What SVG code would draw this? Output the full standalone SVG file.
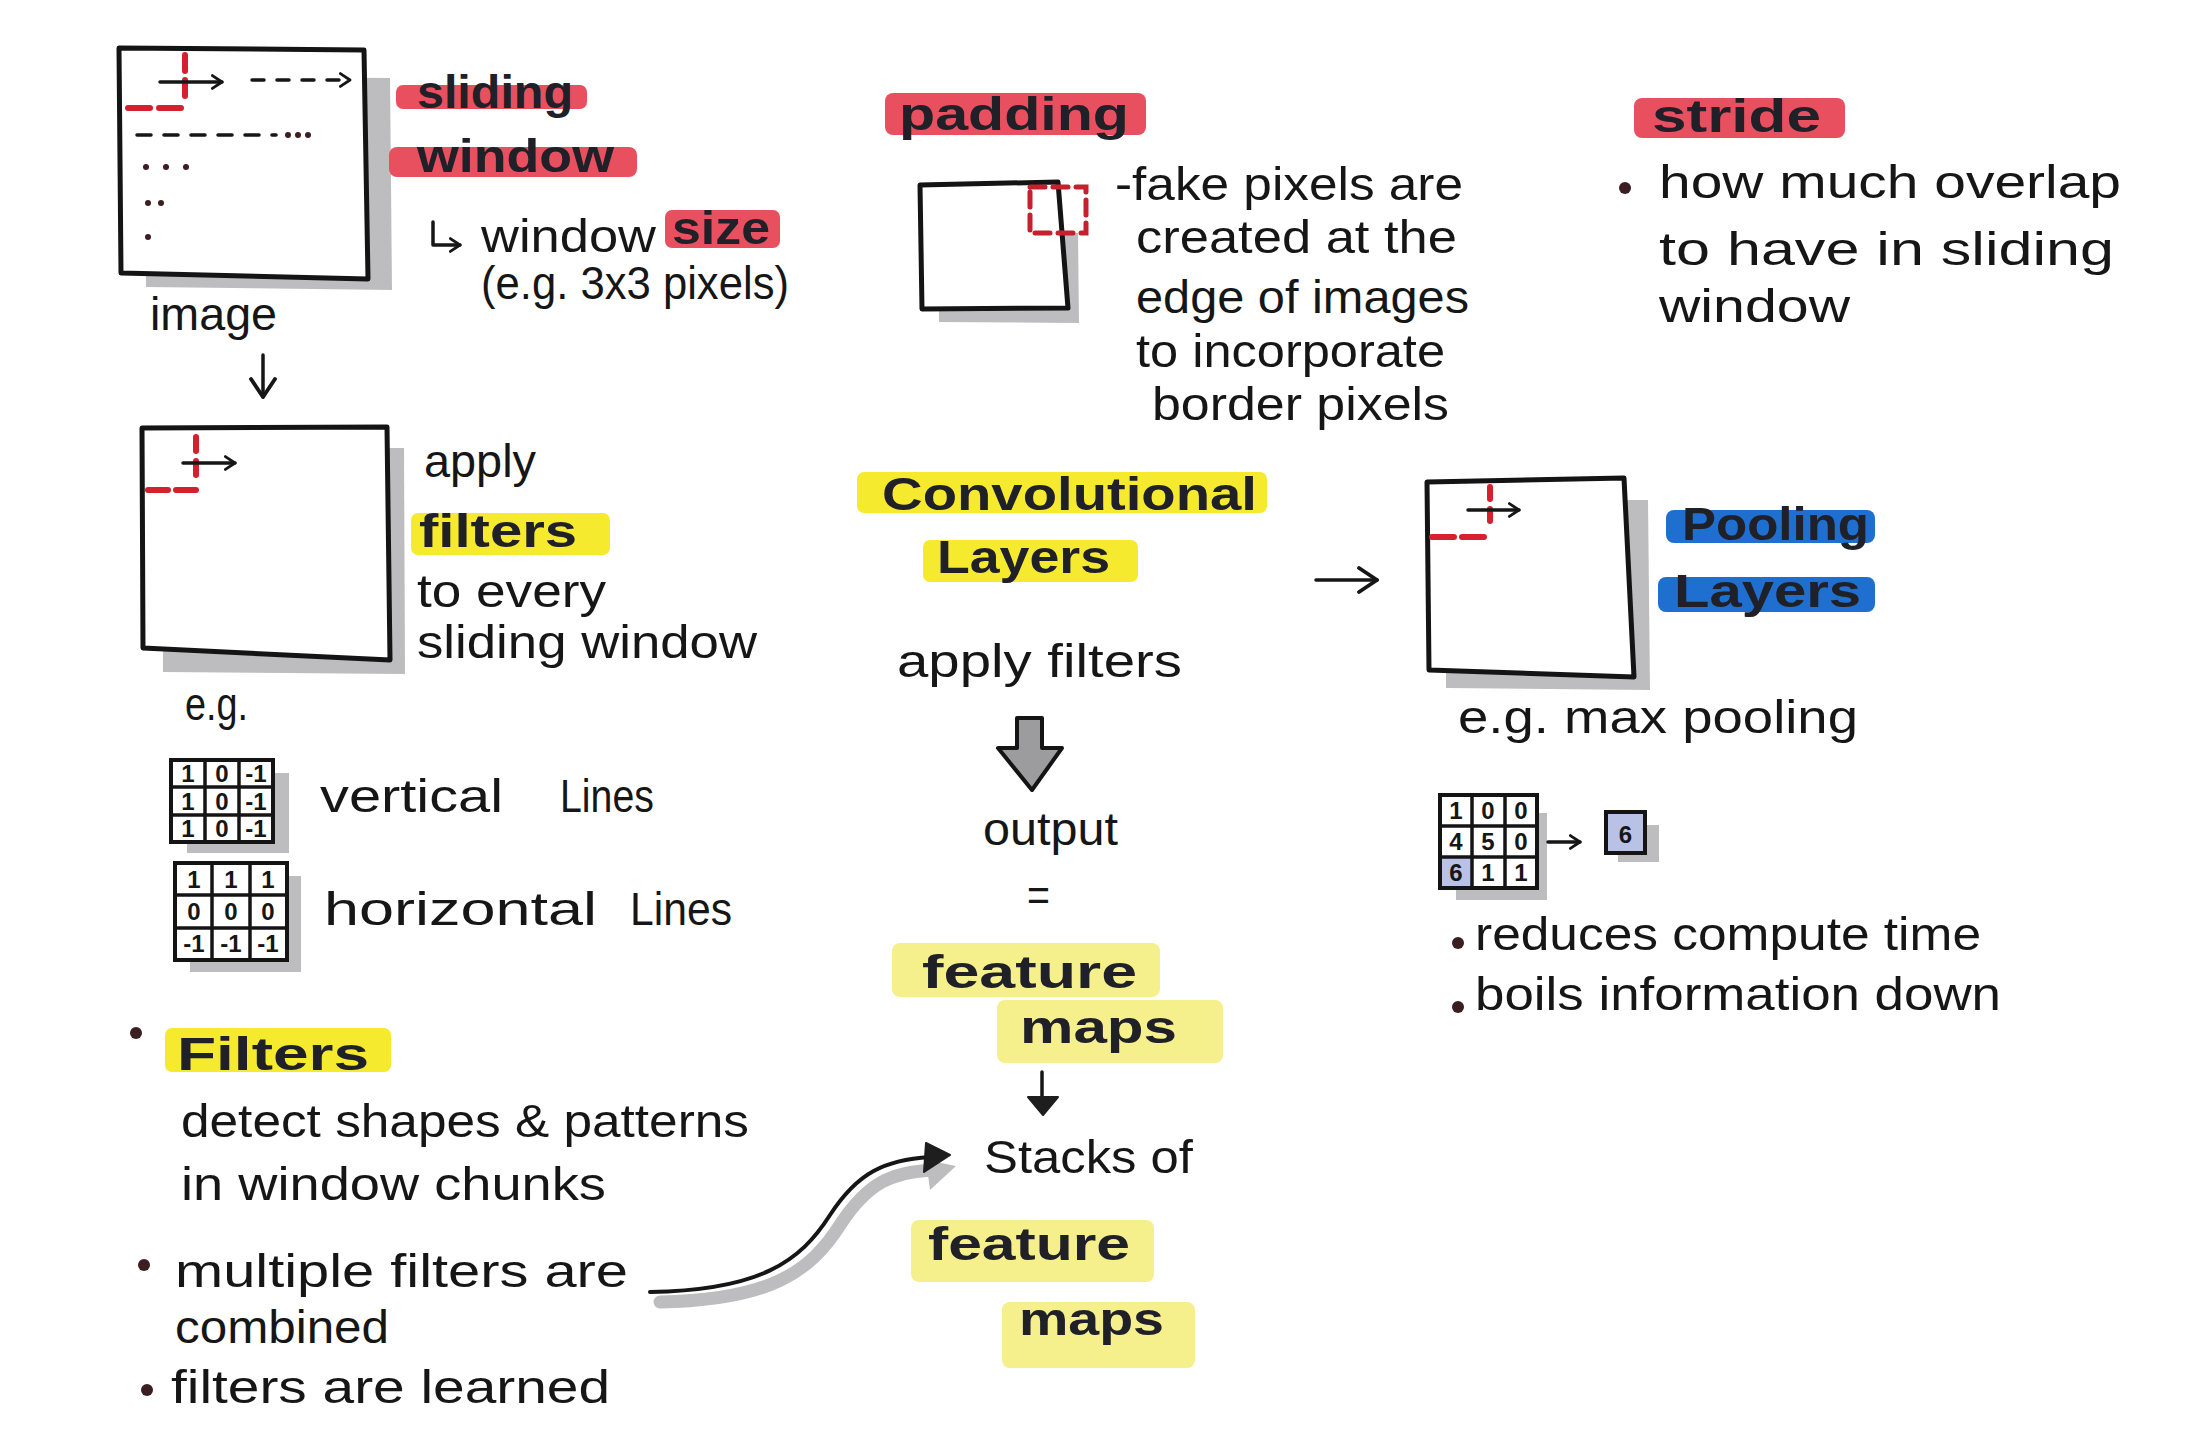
<svg xmlns="http://www.w3.org/2000/svg" width="2206" height="1453" viewBox="0 0 2206 1453">
<defs>
<style>
.t{font-family:"Liberation Sans",Arial,sans-serif;font-size:46px;fill:#161616}
.b{font-weight:bold;fill:#202028}
.box{fill:#fff;stroke:#141414;stroke-width:5;stroke-linejoin:round}
.shadow{fill:#bdbdc0}
.hl-red{fill:#e8505f}
.hl-yel{fill:#f6ea2e}
.hl-pale{fill:#f5ef8c}
.hl-blue{fill:#1f6fd0}
.red{stroke:#d5202f;stroke-width:6;stroke-linecap:round;fill:none}
.ln{stroke:#161616;stroke-width:3.5;fill:none;stroke-linecap:round;stroke-linejoin:round}
.grid{fill:#fff;stroke:#141414;stroke-width:4}
.gl{stroke:#141414;stroke-width:3.5}
.num{font-family:"Liberation Sans",Arial,sans-serif;font-size:24px;font-weight:bold;fill:#161616;text-anchor:middle}
.dot{fill:#3b1d22}
</style>
<marker id="open" viewBox="0 0 20 20" refX="17" refY="10" markerWidth="16" markerHeight="16" markerUnits="userSpaceOnUse" orient="auto">
<path d="M5,2 L17,10 L5,18" fill="none" stroke="#161616" stroke-width="3.5" stroke-linecap="round" stroke-linejoin="round"/>
</marker>
<marker id="open-lg" viewBox="0 0 20 20" refX="17" refY="10" markerWidth="30" markerHeight="30" markerUnits="userSpaceOnUse" orient="auto">
<path d="M5,2 L17,10 L5,18" fill="none" stroke="#161616" stroke-width="2.6" stroke-linecap="round" stroke-linejoin="round"/>
</marker>
</defs>
<rect width="2206" height="1453" fill="#fff"/>

<!-- Sliding window image -->
<g id="image-sliding-window">
<polygon class="shadow" points="145,76 390,78 392,290 146,287"/>
<polygon class="box" points="119,48 364,50 368,279 121,273"/>
<line class="red" x1="185" y1="55" x2="185" y2="100" stroke-dasharray="16 9"/>
<line class="red" x1="128" y1="108" x2="190" y2="108" stroke-dasharray="22 9"/>
<line class="ln" x1="160" y1="82" x2="222" y2="82" marker-end="url(#open)"/>
<line class="ln" x1="252" y1="80" x2="350" y2="80" stroke-dasharray="12 13" marker-end="url(#open)"/>
<line class="ln" x1="137" y1="135" x2="276" y2="135" stroke-dasharray="14 13" stroke-width="4"/>
<circle class="dot" cx="288" cy="135" r="3"/><circle class="dot" cx="298" cy="135" r="3"/><circle class="dot" cx="308" cy="135" r="3"/>
<circle class="dot" cx="146" cy="167" r="3"/><circle class="dot" cx="166" cy="167" r="3"/><circle class="dot" cx="186" cy="167" r="3"/>
<circle class="dot" cx="148" cy="203" r="3"/><circle class="dot" cx="161" cy="203" r="3"/>
<circle class="dot" cx="148" cy="237" r="3"/>
<text class="t" x="150" y="330" textLength="127" lengthAdjust="spacingAndGlyphs">image</text>
</g>

<g id="sliding-window-label">
<rect class="hl-red" x="396" y="85" width="191" height="24" rx="7"/>
<rect class="hl-red" x="389" y="147" width="248" height="30" rx="8"/>
<text class="t b" x="417" y="108" font-size="42" textLength="156" lengthAdjust="spacingAndGlyphs">sliding</text>
<text class="t b" x="417" y="172" font-size="42" textLength="197" lengthAdjust="spacingAndGlyphs">window</text>
<path class="ln" d="M433,222 L433,245 L460,245" marker-end="url(#open)"/>
<text class="t" x="481" y="252" textLength="175" lengthAdjust="spacingAndGlyphs">window</text>
<rect class="hl-red" x="665" y="210" width="115" height="38" rx="7"/>
<text class="t b" x="672" y="244" font-size="42" textLength="98" lengthAdjust="spacingAndGlyphs">size</text>
<text class="t" x="481" y="299" font-size="35" textLength="308" lengthAdjust="spacingAndGlyphs">(e.g. 3x3 pixels)</text>
</g>

<!-- Apply filters -->
<g id="apply-filters">
<polygon class="shadow" points="163,448 404,448 405,674 163,672"/>
<polygon class="box" points="142,428 387,427 390,660 143,648"/>
<line class="red" x1="196" y1="437" x2="196" y2="480" stroke-dasharray="14 10"/>
<line class="red" x1="148" y1="490" x2="196" y2="490" stroke-dasharray="20 8"/>
<line class="ln" x1="183" y1="463" x2="235" y2="463" marker-end="url(#open)"/>
<text class="t" x="424" y="477" textLength="112" lengthAdjust="spacingAndGlyphs">apply</text>
<rect class="hl-yel" x="411" y="513" width="199" height="42" rx="7"/>
<text class="t b" x="419" y="547" font-size="44" textLength="158" lengthAdjust="spacingAndGlyphs">filters</text>
<text class="t" x="417" y="607" textLength="189" lengthAdjust="spacingAndGlyphs">to every</text>
<text class="t" x="417" y="658" textLength="340" lengthAdjust="spacingAndGlyphs">sliding window</text>
<text class="t" x="185" y="720" textLength="63" lengthAdjust="spacingAndGlyphs">e.g.</text>
</g>

<!-- Filter examples -->
<g id="filter-vertical">
<polygon class="shadow" points="187,773 289,773 289,853 187,853"/>
<rect class="grid" x="171" y="760" width="102" height="82"/>
<line class="gl" x1="205" y1="760" x2="205" y2="842"/><line class="gl" x1="239" y1="760" x2="239" y2="842"/>
<line class="gl" x1="171" y1="787" x2="273" y2="787"/><line class="gl" x1="171" y1="815" x2="273" y2="815"/>
<text class="num" x="188" y="782">1</text><text class="num" x="222" y="782">0</text><text class="num" x="256" y="782">-1</text>
<text class="num" x="188" y="810">1</text><text class="num" x="222" y="810">0</text><text class="num" x="256" y="810">-1</text>
<text class="num" x="188" y="837">1</text><text class="num" x="222" y="837">0</text><text class="num" x="256" y="837">-1</text>
<text class="t" x="320" y="812" textLength="183" lengthAdjust="spacingAndGlyphs">vertical</text>
<text class="t" x="560" y="812" font-size="44" textLength="94" lengthAdjust="spacingAndGlyphs">Lines</text>
</g>
<g id="filter-horizontal">
<polygon class="shadow" points="190,876 301,876 301,972 190,972"/>
<rect class="grid" x="175" y="863" width="112" height="97"/>
<line class="gl" x1="212" y1="863" x2="212" y2="960"/><line class="gl" x1="250" y1="863" x2="250" y2="960"/>
<line class="gl" x1="175" y1="895" x2="287" y2="895"/><line class="gl" x1="175" y1="928" x2="287" y2="928"/>
<text class="num" x="194" y="888">1</text><text class="num" x="231" y="888">1</text><text class="num" x="268" y="888">1</text>
<text class="num" x="194" y="920">0</text><text class="num" x="231" y="920">0</text><text class="num" x="268" y="920">0</text>
<text class="num" x="194" y="952">-1</text><text class="num" x="231" y="952">-1</text><text class="num" x="268" y="952">-1</text>
<text class="t" x="324" y="925" textLength="273" lengthAdjust="spacingAndGlyphs">horizontal</text>
<text class="t" x="630" y="925" font-size="44" textLength="102" lengthAdjust="spacingAndGlyphs">Lines</text>
</g>

<!-- Filters notes -->
<g id="filters-notes">
<circle class="dot" cx="136" cy="1033" r="6"/>
<rect class="hl-yel" x="165" y="1028" width="226" height="44" rx="7"/>
<text class="t b" x="177" y="1070" font-size="44" textLength="192" lengthAdjust="spacingAndGlyphs">Filters</text>
<text class="t" x="181" y="1137" textLength="568" lengthAdjust="spacingAndGlyphs">detect shapes &amp; patterns</text>
<text class="t" x="181" y="1200" textLength="425" lengthAdjust="spacingAndGlyphs">in window chunks</text>
<circle class="dot" cx="144" cy="1265" r="6"/>
<text class="t" x="175" y="1287" textLength="453" lengthAdjust="spacingAndGlyphs">multiple filters are</text>
<text class="t" x="175" y="1343" textLength="214" lengthAdjust="spacingAndGlyphs">combined</text>
<circle class="dot" cx="147" cy="1390" r="6"/>
<text class="t" x="171" y="1403" textLength="439" lengthAdjust="spacingAndGlyphs">filters are learned</text>
</g>

<!-- Padding -->
<g id="padding">
<rect class="hl-red" x="885" y="93" width="261" height="42" rx="8"/>
<text class="t b" x="899" y="130" font-size="46" textLength="230" lengthAdjust="spacingAndGlyphs">padding</text>
<polygon class="shadow" points="939,233 1078,233 1079,323 939,322"/>
<polygon class="box" points="920,185 1058,182 1068,308 922,309"/>
<rect x="1030" y="187" width="56" height="46" fill="none" stroke="#c4202d" stroke-width="5" stroke-dasharray="15 8" stroke-linecap="round"/>
<text class="t" x="1115" y="200" textLength="348" lengthAdjust="spacingAndGlyphs">-fake pixels are</text>
<text class="t" x="1136" y="253" textLength="321" lengthAdjust="spacingAndGlyphs">created at the</text>
<text class="t" x="1136" y="313" textLength="333" lengthAdjust="spacingAndGlyphs">edge of images</text>
<text class="t" x="1136" y="367" textLength="309" lengthAdjust="spacingAndGlyphs">to incorporate</text>
<text class="t" x="1152" y="420" textLength="297" lengthAdjust="spacingAndGlyphs">border pixels</text>
</g>

<!-- Stride -->
<g id="stride">
<rect class="hl-red" x="1634" y="98" width="211" height="40" rx="8"/>
<text class="t b" x="1652" y="132" font-size="46" textLength="169" lengthAdjust="spacingAndGlyphs">stride</text>
<circle class="dot" cx="1625" cy="188" r="6"/>
<text class="t" x="1659" y="198" textLength="462" lengthAdjust="spacingAndGlyphs">how much overlap</text>
<text class="t" x="1659" y="265" textLength="455" lengthAdjust="spacingAndGlyphs">to have in sliding</text>
<text class="t" x="1659" y="322" textLength="191" lengthAdjust="spacingAndGlyphs">window</text>
</g>

<!-- Convolutional layers -->
<g id="conv-layers">
<rect class="hl-yel" x="857" y="472" width="410" height="41" rx="7"/>
<text class="t b" x="882" y="510" font-size="42" textLength="375" lengthAdjust="spacingAndGlyphs">Convolutional</text>
<rect class="hl-yel" x="923" y="540" width="215" height="42" rx="7"/>
<text class="t b" x="937" y="573" font-size="44" textLength="173" lengthAdjust="spacingAndGlyphs">Layers</text>
<text class="t" x="897" y="677" textLength="285" lengthAdjust="spacingAndGlyphs">apply filters</text>
</g>

<g id="output">
<text class="t" x="983" y="845" textLength="135" lengthAdjust="spacingAndGlyphs">output</text>
<text class="t" x="1027" y="911" font-size="40" textLength="23" lengthAdjust="spacingAndGlyphs">=</text>
<rect class="hl-pale" x="892" y="943" width="268" height="54" rx="8"/>
<rect class="hl-pale" x="997" y="1000" width="226" height="63" rx="8"/>
<text class="t b" x="922" y="988" font-size="46" textLength="215" lengthAdjust="spacingAndGlyphs">feature</text>
<text class="t b" x="1020" y="1043" font-size="46" textLength="157" lengthAdjust="spacingAndGlyphs">maps</text>
</g>

<g id="stacks">
<text class="t" x="984" y="1173" textLength="209" lengthAdjust="spacingAndGlyphs">Stacks of</text>
<rect class="hl-pale" x="911" y="1220" width="243" height="62" rx="8"/>
<rect class="hl-pale" x="1002" y="1302" width="193" height="66" rx="8"/>
<text class="t b" x="928" y="1260" font-size="46" textLength="202" lengthAdjust="spacingAndGlyphs">feature</text>
<text class="t b" x="1019" y="1335" font-size="46" textLength="145" lengthAdjust="spacingAndGlyphs">maps</text>
</g>

<!-- Pooling -->
<g id="pooling-layers">
<polygon class="shadow" points="1446,500 1648,500 1650,690 1446,688"/>
<polygon class="box" points="1427,482 1624,478 1634,677 1429,670"/>
<line class="red" x1="1490" y1="487" x2="1490" y2="523" stroke-dasharray="12 10"/>
<line class="red" x1="1432" y1="537" x2="1490" y2="537" stroke-dasharray="22 8"/>
<line class="ln" x1="1468" y1="510" x2="1519" y2="510" marker-end="url(#open)"/>
<rect class="hl-blue" x="1666" y="510" width="209" height="33" rx="8"/>
<rect class="hl-blue" x="1658" y="577" width="217" height="35" rx="8"/>
<text class="t b" x="1682" y="540" font-size="44" textLength="187" lengthAdjust="spacingAndGlyphs">Pooling</text>
<text class="t b" x="1674" y="607" font-size="44" textLength="187" lengthAdjust="spacingAndGlyphs">Layers</text>
<text class="t" x="1458" y="733" textLength="400" lengthAdjust="spacingAndGlyphs">e.g. max pooling</text>
</g>

<g id="max-pooling-example">
<polygon class="shadow" points="1456,813 1547,813 1547,900 1456,900"/>
<rect class="grid" x="1440" y="795" width="97" height="93"/>
<rect x="1442" y="857" width="30" height="29" fill="#b9c1e6"/>
<line class="gl" x1="1472" y1="795" x2="1472" y2="888"/><line class="gl" x1="1505" y1="795" x2="1505" y2="888"/>
<line class="gl" x1="1440" y1="826" x2="1537" y2="826"/><line class="gl" x1="1440" y1="857" x2="1537" y2="857"/>
<text class="num" x="1456" y="819">1</text><text class="num" x="1488" y="819">0</text><text class="num" x="1521" y="819">0</text>
<text class="num" x="1456" y="850">4</text><text class="num" x="1488" y="850">5</text><text class="num" x="1521" y="850">0</text>
<text class="num" x="1456" y="881">6</text><text class="num" x="1488" y="881">1</text><text class="num" x="1521" y="881">1</text>
<polygon class="shadow" points="1618,825 1659,825 1659,862 1618,862"/>
<rect x="1606" y="812" width="39" height="41" fill="#b9c1e6" stroke="#141414" stroke-width="4"/>
<text class="num" x="1625.5" y="843" font-size="28">6</text>
</g>

<g id="pooling-notes">
<circle class="dot" cx="1458" cy="943" r="6"/>
<text class="t" x="1475" y="950" textLength="506" lengthAdjust="spacingAndGlyphs">reduces compute time</text>
<circle class="dot" cx="1458" cy="1007" r="6"/>
<text class="t" x="1475" y="1010" textLength="526" lengthAdjust="spacingAndGlyphs">boils information down</text>
</g>

<!-- Connectors -->
<g id="connectors">
<line class="ln" x1="263" y1="355" x2="263" y2="397" stroke-width="4" marker-end="url(#open-lg)"/>
<line class="ln" x1="1316" y1="580" x2="1377" y2="580" stroke-width="4" marker-end="url(#open-lg)"/>
<line class="ln" x1="1548" y1="842" x2="1580" y2="842" stroke-width="4" marker-end="url(#open)"/>
<polygon points="1017,718 1042,718 1042,748 1062,748 1032,790 998,748 1017,748" fill="#9c9c9f" stroke="#141414" stroke-width="4" stroke-linejoin="round"/>
<line class="ln" x1="1042" y1="1072" x2="1042" y2="1100" stroke-width="4"/>
<polygon points="1028,1097 1058,1097 1043,1115" fill="#1e1e1e" stroke="#1e1e1e" stroke-width="2" stroke-linejoin="round"/>
<path d="M660,1302 C770,1300 810,1272 840,1225 C868,1182 892,1172 934,1170" fill="none" stroke="#bdbdc0" stroke-width="13" stroke-linecap="round"/>
<polygon points="926,1160 956,1166 930,1190" fill="#bdbdc0"/>
<path d="M650,1292 C760,1290 800,1262 830,1215 C858,1172 885,1160 930,1157" fill="none" stroke="#161616" stroke-width="4" stroke-linecap="round"/>
<polygon points="926,1143 950,1155 924,1172" fill="#1e1e1e" stroke="#1e1e1e" stroke-width="2" stroke-linejoin="round"/>
</g>
</svg>
